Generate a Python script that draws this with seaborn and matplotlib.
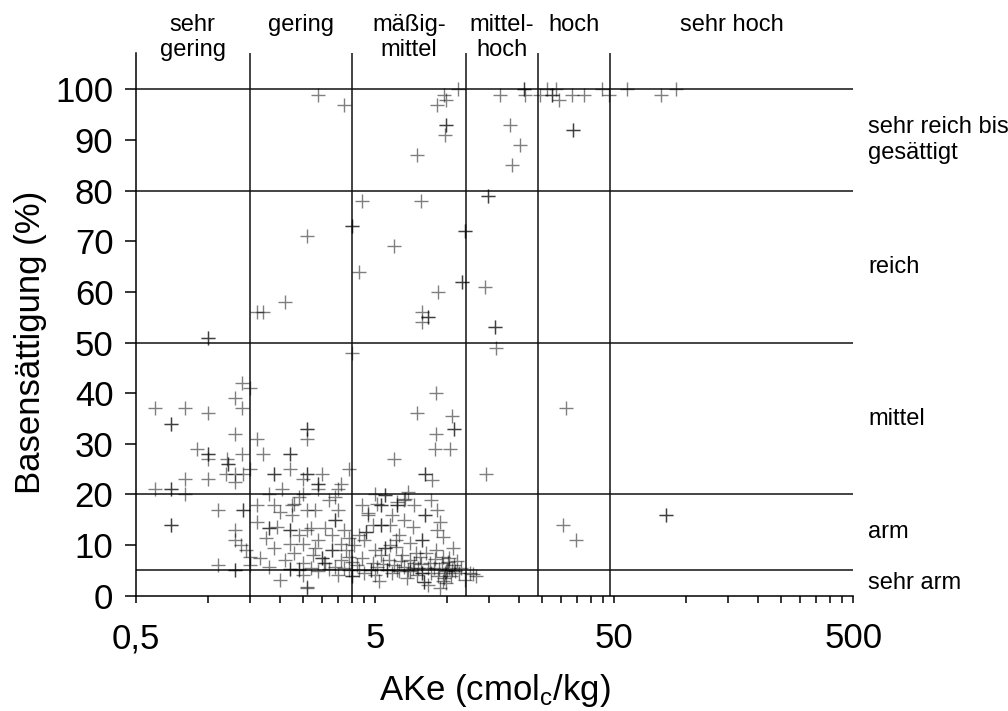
import numpy as np
import pandas as pd
import matplotlib
matplotlib.use("Agg")
import matplotlib.pyplot as plt
import matplotlib.transforms as mtransforms
from matplotlib.ticker import FixedLocator, FixedFormatter, NullFormatter
import seaborn as sns

# ---------------- data ----------------
ake = [
    # upper part
    2.9, 3.7, 4.4, 4.0, 4.0, 2.6, 4.3, 2.1, 1.7, 1.6, 1.0, 1.0,
    9.7, 9.9, 9.1, 11.1, 9.9, 9.9, 9.8, 7.5, 16.7, 21.0, 21.0, 21.2,
    24.5, 26.2, 27.5, 27.5, 29.5, 28.5, 33.3, 37.6, 44.6, 47.5, 56.6, 78.5,
    91.0, 33.8, 33.8, 18.4, 20.2, 18.8, 14.8, 14.8, 11.9, 11.9, 7.8, 6.0,
    11.6, 11.6, 14.4, 9.2, 7.9, 8.3, 8.3, 7.9, 15.9, 15.9, 16.1, 4.0,
    # x < 1.5
    0.6, 0.8, 1.0, 0.7, 0.7, 1.39, 1.5, 1.3, 1.39, 1.3, 0.9, 1.0,
    1.0, 1.0, 1.39, 1.2, 1.22, 1.22, 1.3, 1.19, 1.4, 1.3, 1.0, 0.8,
    0.6, 0.7, 0.7, 0.8, 1.1, 1.4, 1.4, 0.7, 0.7, 1.3, 1.3, 1.38,
    1.5, 1.1, 1.3, 1.3, 1.5, 1.45,
    # 1.5 - 4
    1.6, 1.7, 2.2, 2.2, 1.5, 1.9, 1.9, 2.6, 2.6, 2.5, 2.9, 2.9,
    2.9, 3.6, 3.9, 2.6, 2.6, 2.6, 1.6, 1.8, 1.9, 2.25, 2.0, 1.6,
    1.8, 1.8, 1.95, 2.2, 2.2, 1.76, 1.9, 2.2, 2.6, 2.6, 1.65, 1.8,
    2.2, 2.2, 2.4, 2.0, 2.5, 2.6, 2.6, 2.3, 2.25, 2.7, 3.1, 3.5,
    3.4, 3.4, 2.8, 3.9, 3.3, 3.3, 2.8, 2.5, 3.6, 3.0, 3.0, 2.75,
    3.1, 3.9, 3.7, 2.4, 3.05, 3.4, 3.9, 2.4, 3.2,
    2.1, 2.3, 2.5, 2.7, 2.9, 3.2, 3.5, 3.6, 3.8, 2.4, 2.9, 3.3,
    3.7, 2.05, 2.5, 3.4, 3.0, 3.5, 2.2,
    # 4 - 12
    4.0, 4.1, 4.3, 4.8, 4.8, 5.1, 5.6, 5.6, 5.9, 6.2, 4.0, 4.0,
    4.5, 4.6, 4.6, 5.3, 5.3, 5.8, 5.5, 5.5, 5.8, 5.3, 4.7, 5.5,
    5.5, 6.2, 5.3, 5.3, 6.0, 6.6, 6.2, 6.2, 6.6, 8.1, 8.1, 9.1,
    9.1, 7.9, 7.9, 6.1, 6.1, 7.4, 7.7, 9.6, 10.1, 6.6, 6.9, 7.9,
    7.9, 8.0, 8.0, 8.3, 9.2, 11.9, 12.5, 8.8, 10.7, 7.3, 7.5, 9.0,
    10.5, 10.7, 10.7, 9.0, 8.9, 10.3, 8.1, 8.1, 8.7, 14.6, 6.7, 5.1,
    4.7, 7.0, 8.5, 9.0, 6.4, 8.2, 7.6, 9.8, 10.5, 11.2, 6.8, 5.2,
    4.2, 4.4, 4.9, 5.0, 5.4, 5.7, 6.0, 6.3, 6.5, 7.0, 7.2, 7.5,
    7.8, 8.3, 8.6, 8.9, 9.3, 9.5, 9.7, 9.9, 9.9, 10.2, 10.4, 10.8,
    11.0, 11.5, 9.4, 9.6, 10.0, 12.8, 13.2, 5.0, 4.5, 6.3, 7.2, 5.9,
    4.9, 4.4, 5.0, 6.9, 7.3, 8.6, 9.4, 9.6, 10.6, 10.2, 4.3, 7.0,
    # right part
    31.4, 30.7, 34.8, 82.4, 82.4,
]
bs = [
    # upper part
    99, 97, 78, 73, 73, 71, 64, 58, 56, 56, 51, 51,
    99, 98, 97, 100, 93, 93, 91, 87, 99, 100, 100, 99,
    99, 100, 99, 99, 98, 100, 99, 99, 100, 99, 100, 99,
    100, 92, 92, 93, 89, 85, 79, 79, 72, 72, 78, 69,
    62, 62, 61, 60, 56, 55, 55, 54, 53, 53, 49, 48,
    # x < 1.5
    37, 37, 36, 34, 34, 42, 41, 39, 37, 32, 29, 28,
    28, 27, 28, 27, 26, 26, 24, 24, 24, 22.5, 23, 23,
    21, 21, 21, 20, 17, 17, 17, 14, 14, 13, 11, 10,
    7.7, 6, 5, 5, 6, 9,
    # 1.5 - 4
    31, 28, 28, 28, 25, 24, 24, 24, 24, 23, 22, 22,
    21, 22, 25, 33, 33, 31, 18, 20, 18, 18, 16.6, 14.6,
    13.3, 13.3, 13.5, 13, 13, 11.3, 9.4, 10.3, 17, 13, 7.4, 5.7,
    5.2, 5.2, 5.2, 3.1, 4.1, 1.5, 1.8, 18.2, 16, 13.3, 13.3, 16.9,
    15, 15, 16.9, 11.3, 9, 9, 9.4, 10.3, 10.3, 7.4, 7.4, 8,
    6.4, 7.7, 5.4, 5, 6.4, 5.7, 5.1, 19.5, 19,
    7, 8.5, 6.5, 5.5, 4.8, 5.2, 4, 7, 9, 12, 11, 12,
    13, 21, 20, 19.5, 24, 21, 25,
    # 4 - 12
    6.7, 10, 5.1, 5.1, 5.1, 5.7, 5.1, 5.1, 4.4, 5.1, 3.8, 3.8,
    4.4, 12.6, 12.6, 14, 14, 14, 9.4, 9.4, 10, 8, 15.9, 19.9,
    19.9, 18.6, 17.9, 17.9, 27, 18.9, 17.9, 17.9, 15, 15.9, 15.9, 16.9,
    13, 11, 11, 11, 9.6, 8.4, 7.7, 7.7, 6.7, 5.7, 5.1, 4.4,
    4.4, 2.8, 2.8, 2.1, 3.8, 3.1, 4.4, 5.4, 6, 6.4, 36, 40,
    35.4, 33, 33, 32, 29, 29, 24, 24, 22.8, 24, 19.2, 18.2,
    16.3, 7, 6.5, 9, 6.9, 8.5, 5.5, 4.5, 5, 4.5, 3.5, 3,
    6, 7.5, 6.5, 4, 6.2, 7, 6, 4.8, 8, 4.8, 5.5, 4,
    6.2, 5.5, 4.5, 7.2, 5.2, 6.5, 3.5, 2.5, 4.8, 5.5, 3.8, 4.8,
    6.8, 5.5, 1.5, 3.0, 5.0, 4.2, 3.8, 9, 11, 12, 13.5, 16,
    14, 18, 20, 20.5, 18, 19, 14.5, 11.5, 9.5, 7.5, 12, 10.5,
    # right part
    37, 14, 11, 16, 16,
]

x_bounds = [1.5, 4, 12, 24, 48]
y_bounds = [5, 20, 50, 80, 100]
x_class_labels = ["sehr\ngering", "gering", "mäßig-\nmittel", "mittel-\nhoch", "hoch", "sehr hoch"]
y_class_labels = ["sehr arm", "arm", "mittel", "reich", "sehr reich bis\ngesättigt"]
x_major = [0.5, 5, 50, 500]
x_major_labels = ["0,5", "5", "50", "500"]
y_ticks = [0, 10, 20, 30, 40, 50, 60, 70, 80, 90, 100]

# ---------------- style ----------------
sns.set_style("ticks")
plt.rcParams["font.family"] = ["Liberation Sans", "DejaVu Sans"]
plt.rcParams["mathtext.fontset"] = "custom"
plt.rcParams["mathtext.rm"] = "Liberation Sans"
plt.rcParams["mathtext.it"] = "Liberation Sans:italic"
for key in ["text.color", "axes.labelcolor", "xtick.color", "ytick.color", "axes.edgecolor"]:
    plt.rcParams[key] = "black"

fig = plt.figure(figsize=(10.08, 7.11), dpi=100)
ax = fig.add_axes([135.7 / 1008, 1 - 595.7 / 711, (853.3 - 135.7) / 1008, (595.7 - 53) / 711])

df = pd.DataFrame({"AKe": ake, "BS": bs})
sns.scatterplot(data=df, x="AKe", y="BS", marker="+", s=110, color="black",
                alpha=0.5, linewidth=1.0, ax=ax, zorder=3)

ax.set_xscale("log")
ax.set_xlim(0.5, 500)
ax.set_ylim(0, 107.2)

line_kw = dict(color="#111111", lw=1.1, zorder=2)
for xb in x_bounds:
    ax.axvline(xb, **line_kw)
for yb in y_bounds:
    ax.axhline(yb, **line_kw)

# ticks
ax.xaxis.set_major_locator(FixedLocator(x_major))
ax.xaxis.set_major_formatter(FixedFormatter(x_major_labels))
minor = [v * 0.5 for v in range(2, 10)] + [v * 5.0 for v in range(2, 10)] + [v * 50.0 for v in range(2, 10)]
ax.xaxis.set_minor_locator(FixedLocator(minor))
ax.xaxis.set_minor_formatter(NullFormatter())
ax.set_yticks(y_ticks)
ax.tick_params(axis="x", which="both", length=5, width=1.1, color="black",
               labelcolor="black", labelsize=25, pad=14, direction="out")
ax.tick_params(axis="y", which="both", length=8, width=1.1, color="black",
               labelcolor="black", labelsize=25, pad=8, direction="out")

for side in ["top", "right"]:
    ax.spines[side].set_visible(False)
for side in ["left", "bottom"]:
    ax.spines[side].set_linewidth(1.1)
    ax.spines[side].set_color("black")

ax.set_xlabel("AKe (cmol$_\\mathregular{c}$/kg)", fontsize=25, labelpad=12)
ax.set_ylabel("Basensättigung (%)", fontsize=25)
ax.yaxis.set_label_coords(-0.124, 50 / 107.2)

# class labels on top
xb_all = [0.5] + x_bounds + [500]
for i, lab in enumerate(x_class_labels):
    xc = np.sqrt(xb_all[i] * xb_all[i + 1])
    ax.text(xc, 115.0, lab, ha="center", va="top", fontsize=17,
            multialignment="center", clip_on=False)

# class labels on the right
yb_all = [0] + y_bounds
trans = mtransforms.blended_transform_factory(ax.transAxes, ax.transData)
for i, lab in enumerate(y_class_labels):
    yc = (yb_all[i] + yb_all[i + 1]) / 2
    ax.text(1.0205, yc, lab, ha="left", va="center", fontsize=17,
            transform=trans, clip_on=False)

fig.savefig("out.png", dpi=100)
